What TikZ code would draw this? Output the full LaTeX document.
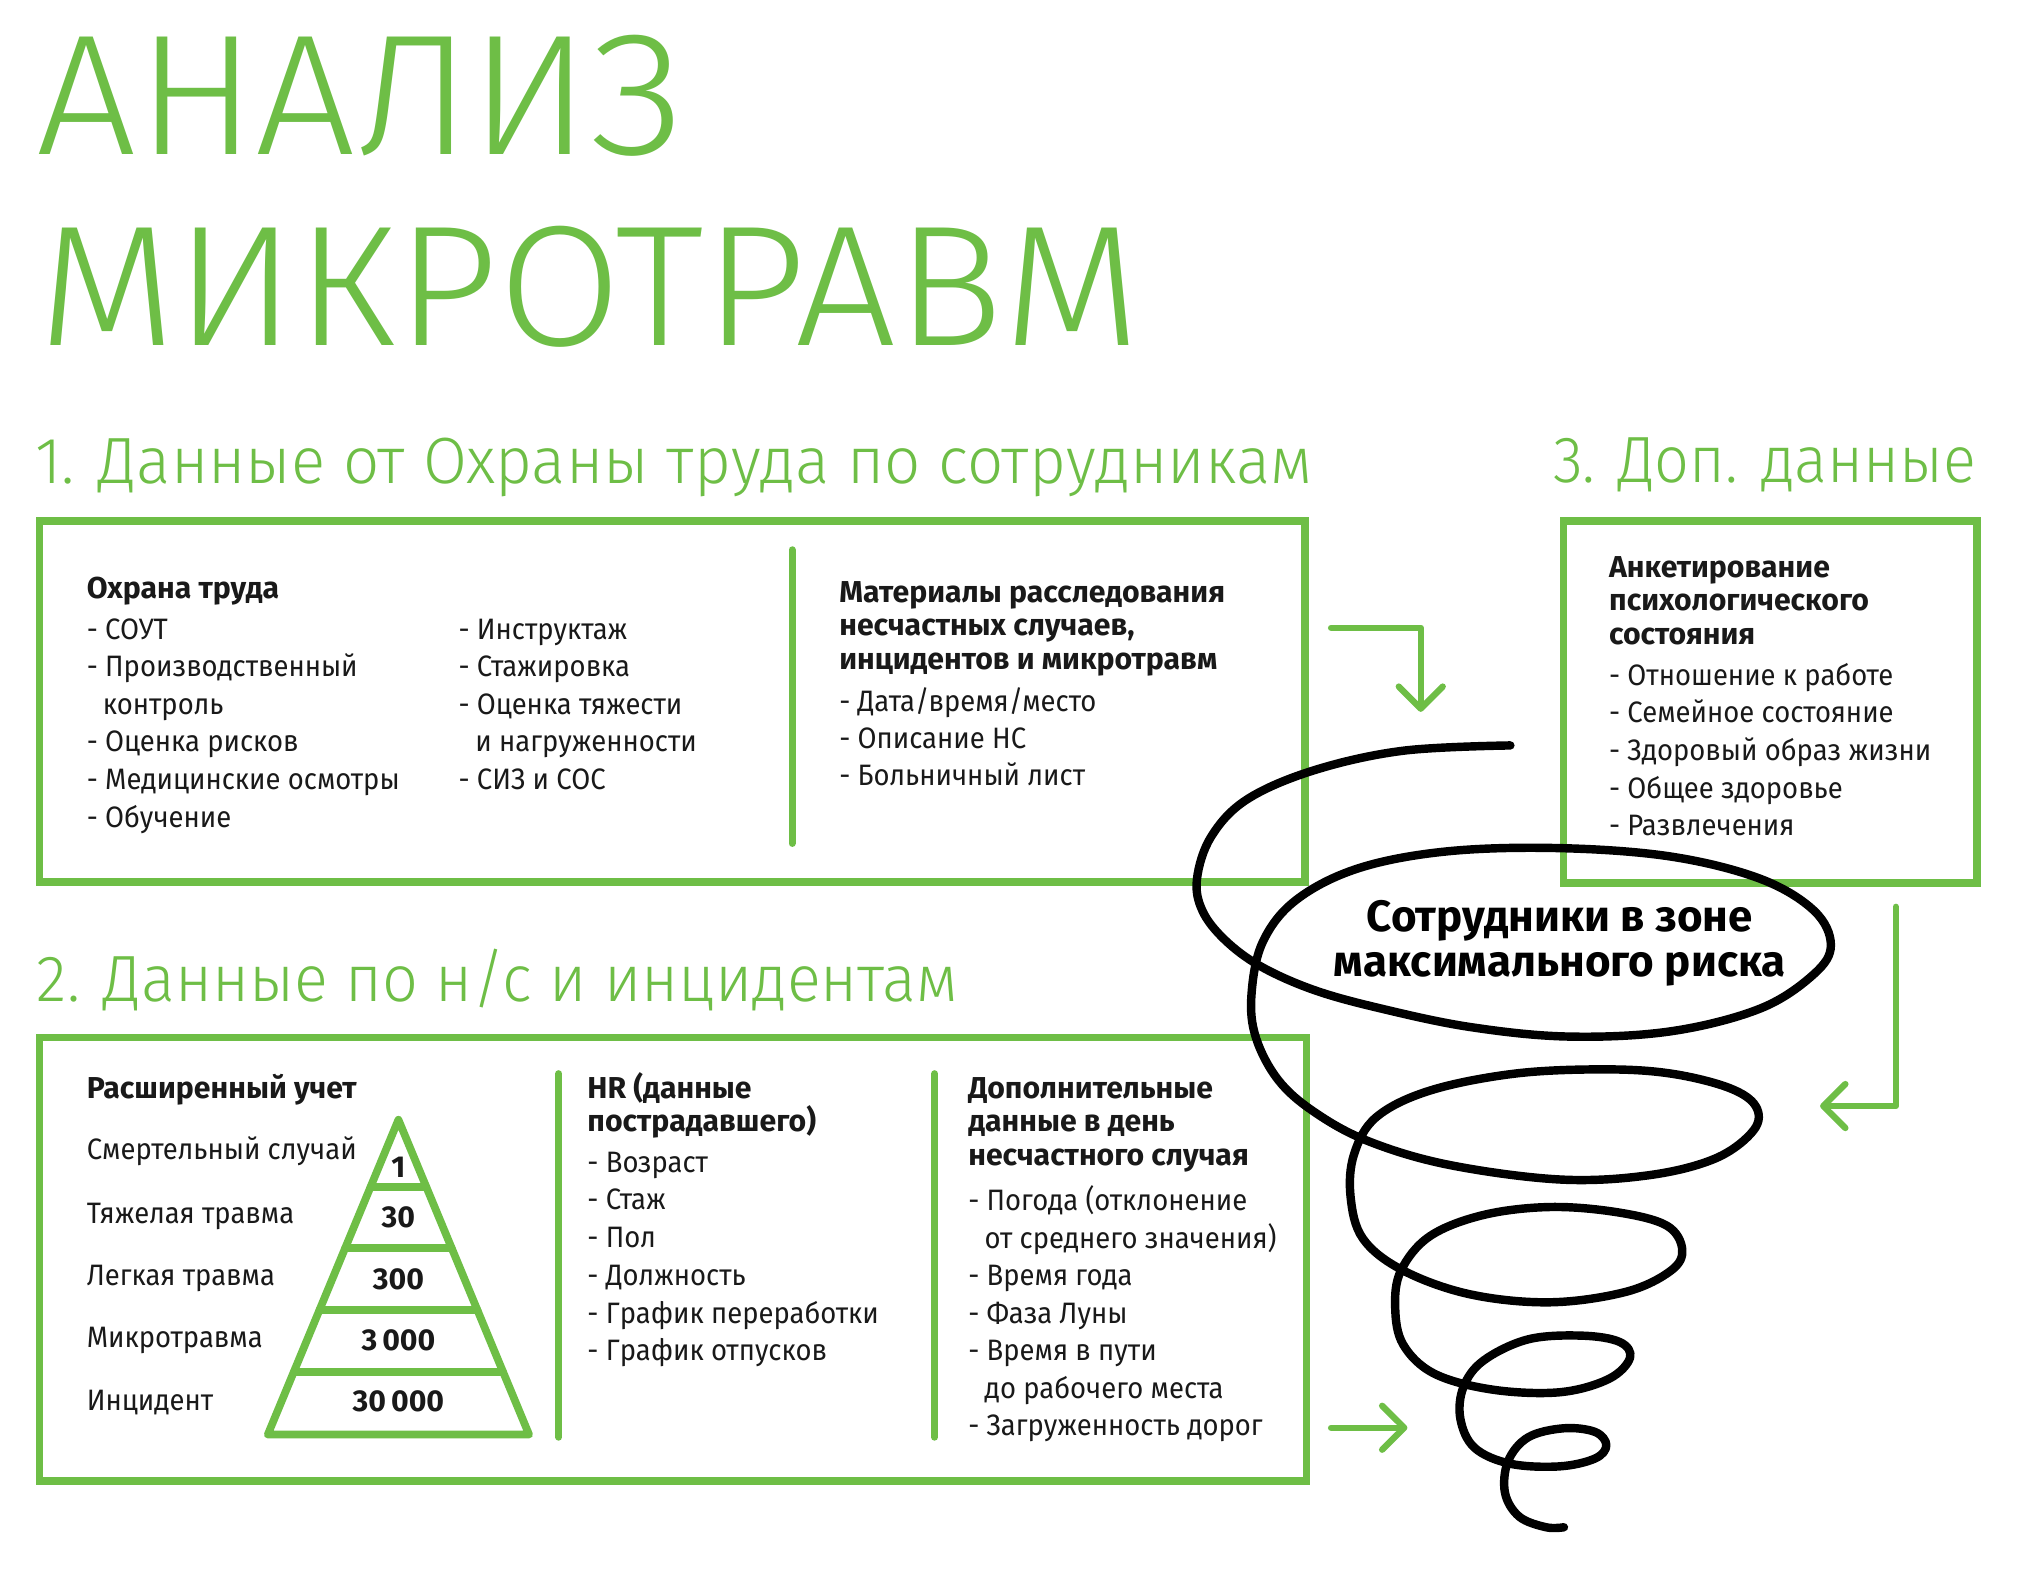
\documentclass[tikz,border=0pt]{standalone}
\usepackage{fontspec}
\setmainfont{Fira Sans}
\newfontfamily\lightfont{Fira Sans Light}
\usetikzlibrary{arrows.meta,calc}
\definecolor{grn}{RGB}{110,190,70}
\definecolor{txt}{RGB}{25,25,25}
\newcommand{\bodysq}[1]{\scalebox{0.93}[1]{#1}}
\tikzset{
  greenbox/.style={draw=grn, line width=2.2pt},
  divider/.style={draw=grn, line width=2pt, line cap=round},
  garrow/.style={draw=grn, line width=1.8pt, line cap=round, line join=round,
     -{Straight Barb[length=6.3pt, width=12.5pt, line cap=round, line join=round]}},
  body/.style={anchor=base west, inner sep=0pt, text=txt, font=\fontsize{8.4}{10}\selectfont},
  head/.style={anchor=base west, inner sep=0pt, text=txt, font=\fontsize{8.6}{10}\selectfont\bfseries},
  pnum/.style={anchor=base, inner sep=0pt, text=txt, font=\fontsize{8.6}{10}\selectfont\bfseries},
  center text/.style={anchor=base, inner sep=0pt, text=black, font=\fontsize{12.5}{14}\selectfont\bfseries},
  htitle/.style={anchor=base west, inner sep=0pt, text=grn, font=\lightfont\fontsize{18.6}{20}\selectfont},
  bigtitle/.style={anchor=base west, inner sep=0pt, text=grn, font=\lightfont\fontsize{48.8}{50}\selectfont},
  spiral/.style={draw=black, line width=2.4pt, line cap=round, line join=round},
  pyr/.style={draw=grn, line width=2.2pt, line join=round, line cap=round},
}
\begin{document}
\begin{tikzpicture}[x=0.012936cm, y=-0.012936cm]
\useasboundingbox[fill=white] (0,0) rectangle (1560,1212.9);

% titles
\node[bigtitle] (t1) at (28,119.8) {\resizebox{6.455cm}{\height}{АНАЛИЗ}};
\node[bigtitle] (t2) at (29,266.7) {\resizebox{11.03cm}{\height}{МИКРОТРАВМ}};
\node[htitle] (h1) at (27,373.6) {\resizebox{12.77cm}{\height}{1. Данные от Охраны труда по сотрудникам}};
\node[htitle] (h3) at (1200,373) {\resizebox{4.23cm}{\height}{3. Доп. данные}};
\node[htitle] (h2) at (28,774.3) {\resizebox{9.21cm}{\height}{2. Данные по н/с и инцидентам}};

% boxes
\draw[greenbox] (30.5,403) rectangle (1009,682);
\draw[greenbox] (1208.7,402.5) rectangle (1528.3,682.6);
\draw[greenbox] (30.5,802) rectangle (1010,1145);
\draw[divider] (612.3,425) -- (612.3,652);
\draw[divider] (431.9,830) -- (431.9,1111);
\draw[divider] (722.5,830) -- (722.5,1111);

% box 1, column 1
\node[head] (b1h) at (66.6,463) {Охрана труда};
\node[body] (b1a) at (66.6,494) {\bodysq{- СОУТ}};
\node[body] (b1b) at (66.6,523.1) {\bodysq{- Производственный}};
\node[body] (b1c) at (78.9,552.2) {\bodysq{контроль}};
\node[body] (b1d) at (66.6,581.3) {\bodysq{- Оценка рисков}};
\node[body] (b1e) at (66.6,610.4) {\bodysq{- Медицинские осмотры}};
\node[body] (b1f) at (66.6,639.5) {\bodysq{- Обучение}};
% box 1, column 2
\node[body] (b2a) at (354,494) {\bodysq{- Инструктаж}};
\node[body] (b2b) at (354,523.1) {\bodysq{- Стажировка}};
\node[body] (b2c) at (354,552.2) {\bodysq{- Оценка тяжести}};
\node[body] (b2d) at (367,581.3) {\bodysq{и нагруженности}};
\node[body] (b2e) at (354,610.4) {\bodysq{- СИЗ и СОС}};
% box 1, column 3
\node[head] (b3h1) at (648.3,465.5) {Материалы расследования};
\node[head] (b3h2) at (648.3,491.5) {несчастных случаев,};
\node[head] (b3h3) at (648.3,517.5) {инцидентов и микротравм};
\node[body] (b3a) at (648.3,550) {\bodysq{- Дата/время/место}};
\node[body] (b3b) at (648.3,578.5) {\bodysq{- Описание НС}};
\node[body] (b3c) at (648.3,607.5) {\bodysq{- Больничный лист}};

% box 3
\node[head] (c1) at (1243.4,446.4) {Анкетирование};
\node[head] (c2) at (1243.4,472.2) {психологического};
\node[head] (c3) at (1243.4,498) {состояния};
\node[body] (c4) at (1243.4,529.8) {\bodysq{- Отношение к работе}};
\node[body] (c5) at (1243.4,558.8) {\bodysq{- Семейное состояние}};
\node[body] (c6) at (1243.4,587.8) {\bodysq{- Здоровый образ жизни}};
\node[body] (c7) at (1243.4,617) {\bodysq{- Общее здоровье}};
\node[body] (c8) at (1243.4,646) {\bodysq{- Развлечения}};

% box 2, column 1 with pyramid
\node[head] (d0) at (66.6,849) {Расширенный учет};
\node[body] (d1) at (66.6,896.5) {\bodysq{Смертельный случай}};
\node[body] (d2) at (66.6,945.5) {\bodysq{Тяжелая травма}};
\node[body] (d3) at (66.6,993.8) {\bodysq{Легкая травма}};
\node[body] (d4) at (66.6,1042) {\bodysq{Микротравма}};
\node[body] (d5) at (66.6,1090) {\bodysq{Инцидент}};
\coordinate (apex) at (308,865.6);
\coordinate (bl) at (207,1109);
\coordinate (br) at (409,1109);
\draw[pyr] (apex) -- (br) -- (bl) -- cycle;
\foreach \t in {0.213,0.408,0.605,0.801}
  \draw[pyr] ($(apex)!\t!(bl)$) -- ($(apex)!\t!(br)$);
\node[pnum] (p1) at (308,910.5) {1};
\node[pnum] (p2) at (308,949) {30};
\node[pnum] (p3) at (308,996.5) {300};
\node[pnum] (p4) at (308,1044) {3\,000};
\node[pnum] (p5) at (308,1091) {30\,000};

% box 2, column 2
\node[head] (e0) at (453.6,849) {HR (данные};
\node[head] (e1) at (453.6,874.5) {пострадавшего)};
\node[body] (e2) at (453.6,906) {\bodysq{- Возраст}};
\node[body] (e3) at (453.6,935.3) {\bodysq{- Стаж}};
\node[body] (e4) at (453.6,964) {\bodysq{- Пол}};
\node[body] (e5) at (453.6,993.5) {\bodysq{- Должность}};
\node[body] (e6) at (453.6,1022.8) {\bodysq{- График переработки}};
\node[body] (e7) at (453.6,1051.6) {\bodysq{- График отпусков}};

% box 2, column 3
\node[head] (f0) at (748,849) {Дополнительные};
\node[head] (f1) at (748,875) {данные в день};
\node[head] (f2) at (748,900.8) {несчастного случая};
\node[body] (f3) at (748,936) {\bodysq{- Погода (отклонение}};
\node[body] (f4) at (760.7,965.5) {\bodysq{от среднего значения)}};
\node[body] (f5) at (748,994) {\bodysq{- Время года}};
\node[body] (f6) at (748,1022.8) {\bodysq{- Фаза Луны}};
\node[body] (f7) at (748,1052) {\bodysq{- Время в пути}};
\node[body] (f8) at (760.7,1080.8) {\bodysq{до рабочего места}};
\node[body] (f9) at (748,1110) {\bodysq{- Загруженность дорог}};

% green arrows
\coordinate (a1s) at (1029,485.3);
\coordinate (a1m) at (1098.3,485.3);
\coordinate (a1e) at (1098.3,550.3);
\draw[garrow] (a1s) -- (a1m) -- (a1e);
\coordinate (a2s) at (1465.6,701);
\coordinate (a2m) at (1465.6,855);
\coordinate (a2e) at (1407,855);
\draw[garrow] (a2s) -- (a2m) -- (a2e);
\coordinate (a3s) at (1029,1103.7);
\coordinate (a3e) at (1088,1103.7);
\draw[garrow] (a3s) -- (a3e);

% spiral
\begin{scope}[shift={(912.2,556.6)}, xscale=0.3451, yscale=0.4092]
\draw[spiral] plot[smooth, tension=0.6] coordinates {
 (740,48) (500,58) (300,95) (150,150) (70,220) (38,300) (50,360) (100,415)
 (180,465) (300,510) (450,545) (650,580) (870,598) (1100,588) (1300,545)
 (1420,480) (1458,425) (1420,360) (1300,300) (1100,258) (850,242) (600,248)
 (400,280) (260,340) (185,420) (160,520) (170,600) (220,680) (300,740)
 (420,795) (600,840) (850,868) (1050,860) (1200,828) (1285,775) (1290,730)
 (1230,695) (1100,668) (950,660) (750,668) (560,700) (440,750) (390,820)
 (382,900) (410,980) (500,1040) (650,1085) (830,1100) (1000,1080) (1100,1040)
 (1125,1000) (1090,955) (980,930) (830,920) (680,935) (560,975) (495,1040)
 (482,1110) (500,1180) (570,1235) (700,1265) (850,1270) (960,1245) (1008,1205)
 (985,1175) (900,1163) (780,1170) (680,1210) (635,1260) (628,1320) (660,1375)
 (740,1405) (850,1410) (930,1395) (955,1370) (930,1345) (860,1338) (780,1355)
 (735,1400) (728,1460) (760,1505) (820,1525) (860,1525)};
\end{scope}

% center text
\node[center text] (z1) at (1205.7,720.3) {Сотрудники в зоне};
\node[center text] (z2) at (1205.7,755) {максимального риска};
\end{tikzpicture}
\end{document}
